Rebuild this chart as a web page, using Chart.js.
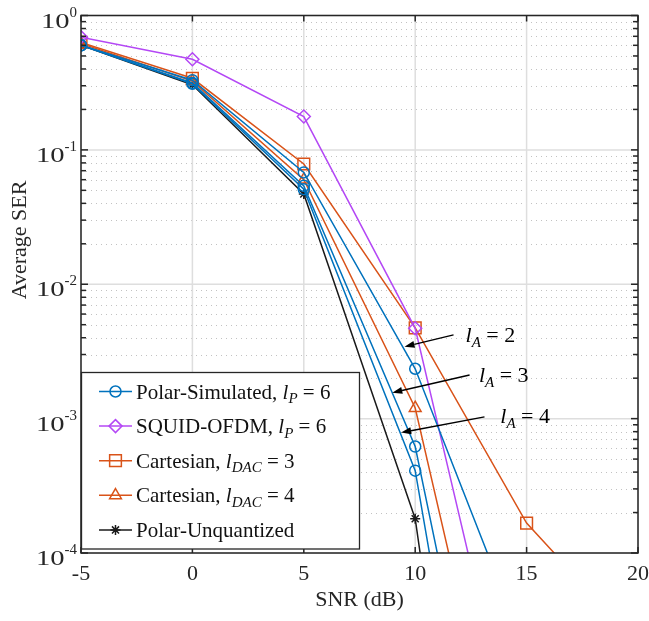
<!DOCTYPE html>
<html>
<head>
<meta charset="utf-8">
<script src="https://cdn.jsdelivr.net/npm/chart.js@4.4.0/dist/chart.umd.min.js"></script>
<style>
  html, body { margin: 0; padding: 0; background: #fff; }
</style>
</head>
<body>
<canvas id="chart" width="649" height="621"></canvas>
<script>
// SNR (dB) grid of the simulation
const snr = [-5, 0, 5, 10, 15, 20];

// average SER (values below 1e-4 only set the slope of the last segment)
const polarL2 = [0.60, 0.33, 0.068, 0.00235, 1.8e-5, null];
const polarL3 = [0.60, 0.315, 0.054, 0.00062, 6.3e-8, null];
const polarL4 = [0.60, 0.31, 0.051, 0.00041, 6.6e-9, null];
const squid = [0.69, 0.472, 0.177, 0.0047, 1.4e-6, null];
const cart3 = [0.63, 0.341, 0.0785, 0.00473, 1.67e-4, 2.1e-5];
const cart4 = [0.62, 0.325, 0.060, 0.0012, 3.1e-7, null];
const unquant = [0.60, 0.305, 0.047, 0.00018, 3e-10, null];

const xTicks = [-5, 0, 5, 10, 15, 20];
const yDecades = [0, -1, -2, -3, -4];

// arrows "l_A = n" : text start, arrow tail, arrow head (data units)
const arrowLabels = ['2', '3', '4'];
const arrowText = [[12.26, 0.00372], [12.86, 0.001875], [13.82, 0.000929]];
const arrowTail = [[11.72, 0.0042], [12.44, 0.00211], [13.11, 0.00103]];
const arrowHead = [[9.52, 0.00343], [8.97, 0.00156], [9.37, 0.000787]];

const BLUE = '#0072BD', ORANGE = '#D95319', PURPLE = '#B448F5', BLACK = '#1a1a1a';
const AX = '#262626';
const SERIF = '"Liberation Serif", "DejaVu Serif", serif';

function series(data, color, style, radius, legend) {
    return {
        data: data,
        borderColor: color,
        borderWidth: 1.5,
        pointStyle: style,
        pointRadius: radius,
        pointBorderColor: color,
        pointBackgroundColor: 'rgba(0,0,0,0)',
        pointBorderWidth: 1.5,
        tension: 0,
        fill: false,
        spanGaps: false,
        legendText: legend
    };
}

// legend text pieces: n = normal, i = italic, s = italic subscript
const legendPolar = [['Polar-Simulated, ', 'n'], ['l', 'i'], ['P', 's'], [' = 6', 'n']];
const legendSquid = [['SQUID-OFDM, ', 'n'], ['l', 'i'], ['P', 's'], [' = 6', 'n']];
const legendCart3 = [['Cartesian, ', 'n'], ['l', 'i'], ['DAC', 's'], [' = 3', 'n']];
const legendCart4 = [['Cartesian, ', 'n'], ['l', 'i'], ['DAC', 's'], [' = 4', 'n']];
const legendUnq = [['Polar-Unquantized', 'n']];

const datasets = [
    series(polarL2, BLUE, 'circle', 5.5, legendPolar),
    series(polarL3, BLUE, 'circle', 5.5, null),
    series(polarL4, BLUE, 'circle', 5.5, null),
    series(squid, PURPLE, 'rectRot', 6.5, legendSquid),
    series(cart3, ORANGE, 'rect', 8.3, legendCart3),
    series(cart4, ORANGE, 'triangle', 6.8, legendCart4),
    series(unquant, BLACK, 'star', 5, legendUnq)
];

function line(ctx, x0, y0, x1, y1) {
    ctx.beginPath();
    ctx.moveTo(x0, y0);
    ctx.lineTo(x1, y1);
    ctx.stroke();
}

// draws text made of normal / italic / subscript pieces, returns the end x
function richText(ctx, parts, x, y, size) {
    parts.forEach(p => {
        let font = size + 'px ' + SERIF;
        let dy = 0;
        if (p[1] === 'i') font = 'italic ' + size + 'px ' + SERIF;
        if (p[1] === 's') { font = 'italic ' + Math.round(size * 0.7) + 'px ' + SERIF; dy = size * 0.22; }
        ctx.font = font;
        ctx.fillText(p[0], x, y + dy);
        x += ctx.measureText(p[0]).width;
    });
    return x;
}

function drawGrid(chart) {
    const { ctx, chartArea: a, scales: { x, y } } = chart;
    ctx.save();
    // minor dotted lines of the log axis
    ctx.strokeStyle = '#c2c2c2';
    ctx.lineWidth = 1;
    ctx.setLineDash([1, 4]);
    yDecades.forEach(d => {
        if (d === 0) return;
        for (let m = 2; m <= 9; m++) {
            const py = Math.round(y.getPixelForValue(m * Math.pow(10, d))) + 0.5;
            line(ctx, a.left, py, a.right, py);
        }
    });
    // major solid lines
    ctx.setLineDash([]);
    ctx.strokeStyle = '#dedede';
    ctx.lineWidth = 1.5;
    yDecades.forEach(d => {
        const py = y.getPixelForValue(Math.pow(10, d));
        line(ctx, a.left, py, a.right, py);
    });
    xTicks.forEach(v => {
        const px = x.getPixelForValue(v);
        line(ctx, px, a.top, px, a.bottom);
    });
    ctx.restore();
}

function drawFrame(chart) {
    const { ctx, chartArea: a, scales: { x, y } } = chart;
    ctx.save();
    ctx.strokeStyle = AX;
    ctx.lineWidth = 1.5;
    // tick marks inside the box
    yDecades.forEach(d => {
        for (let m = 1; m <= 9; m++) {
            const v = m * Math.pow(10, d);
            if (v > 1 || (d === 0 && m > 1)) continue;
            const py = y.getPixelForValue(v);
            const len = m === 1 ? 7 : 5;
            line(ctx, a.left, py, a.left + len, py);
            line(ctx, a.right, py, a.right - len, py);
        }
    });
    xTicks.forEach(v => {
        const px = x.getPixelForValue(v);
        line(ctx, px, a.bottom, px, a.bottom - 6);
        line(ctx, px, a.top, px, a.top + 6);
    });
    ctx.strokeRect(a.left, a.top, a.right - a.left, a.bottom - a.top);
    ctx.restore();
}

// 10^n labels of the y axis
function drawYLabels(chart) {
    const { ctx, scales: { y } } = chart;
    ctx.save();
    ctx.fillStyle = AX;
    ctx.textBaseline = 'alphabetic';
    yDecades.forEach(d => {
        const py = y.getPixelForValue(Math.pow(10, d));
        const exp = String(d);
        ctx.font = '15px ' + SERIF;
        const ew = ctx.measureText(exp).width;
        const xr = 77;
        ctx.textAlign = 'left';
        ctx.fillText(exp, xr - ew, py + 1);
        ctx.font = '22px ' + SERIF;
        ctx.textAlign = 'right';
        ctx.save();
        ctx.translate(xr - ew, py + 12);
        ctx.scale(1.3, 1);
        ctx.fillText('10', 0, 0);
        ctx.restore();
    });
    ctx.restore();
}

function drawTitles(chart) {
    const { ctx, chartArea: a } = chart;
    ctx.save();
    ctx.fillStyle = AX;
    ctx.font = '22px ' + SERIF;
    ctx.textAlign = 'center';
    ctx.textBaseline = 'alphabetic';
    ctx.fillText('SNR (dB)', (a.left + a.right) / 2, 606);
    ctx.translate(26, 240);
    ctx.rotate(-Math.PI / 2);
    ctx.fillText('Average SER', 0, 0);
    ctx.restore();
}

function drawArrows(chart) {
    const { ctx, scales: { x, y } } = chart;
    ctx.save();
    ctx.strokeStyle = '#000';
    ctx.fillStyle = '#000';
    ctx.lineWidth = 1.4;
    arrowLabels.forEach((lab, i) => {
        const x0 = x.getPixelForValue(arrowTail[i][0]), y0 = y.getPixelForValue(arrowTail[i][1]);
        const x1 = x.getPixelForValue(arrowHead[i][0]), y1 = y.getPixelForValue(arrowHead[i][1]);
        const ang = Math.atan2(y1 - y0, x1 - x0);
        const hl = 10, hw = 3.5;
        const bx = x1 - hl * Math.cos(ang), by = y1 - hl * Math.sin(ang);
        line(ctx, x0, y0, bx, by);
        ctx.beginPath();
        ctx.moveTo(x1, y1);
        ctx.lineTo(bx + hw * Math.sin(ang), by - hw * Math.cos(ang));
        ctx.lineTo(bx - hw * Math.sin(ang), by + hw * Math.cos(ang));
        ctx.closePath();
        ctx.fill();
        const tx = x.getPixelForValue(arrowText[i][0]), ty = y.getPixelForValue(arrowText[i][1]);
        richText(ctx, [['l', 'i'], ['A', 's'], [' = ' + lab, 'n']], tx, ty, 22);
    });
    ctx.restore();
}

function drawLegend(chart) {
    const { ctx, chartArea: a } = chart;
    const items = chart.data.datasets.filter(ds => ds.legendText);
    const left = a.left + 0.5, top = 372.5, w = 278, h = 176.5;
    ctx.save();
    ctx.fillStyle = '#fff';
    ctx.fillRect(left, top, w, h);
    ctx.strokeStyle = AX;
    ctx.lineWidth = 1.3;
    ctx.strokeRect(left, top, w, h);
    items.forEach((ds, i) => {
        const cy = 391.5 + i * 34.6;
        ctx.strokeStyle = ds.borderColor;
        ctx.lineWidth = 1.5;
        line(ctx, 99, cy, 132, cy);
        ctx.fillStyle = 'rgba(0,0,0,0)';
        Chart.helpers.drawPoint(ctx, { pointStyle: ds.pointStyle, radius: ds.pointRadius, rotation: 0, borderWidth: 1.5 }, 115.5, cy);
        ctx.fillStyle = '#111';
        ctx.textBaseline = 'alphabetic';
        richText(ctx, ds.legendText, 136, cy + 7, 21);
    });
    ctx.restore();
}

const paperPlugin = {
    id: 'paper',
    beforeDatasetsDraw(chart) { drawGrid(chart); },
    afterDatasetsDraw(chart) {
        drawFrame(chart);
        drawYLabels(chart);
        drawTitles(chart);
        drawArrows(chart);
        drawLegend(chart);
    }
};

const ctx = document.getElementById('chart').getContext('2d');
const chart = new Chart(ctx, {
    type: 'line',
    data: { labels: snr, datasets: datasets },
    options: {
        responsive: false,
        animation: false,
        layout: { padding: { top: 15.5, right: 11, left: 0, bottom: 0 } },
        plugins: { legend: { display: false }, tooltip: { enabled: false } },
        scales: {
            x: {
                type: 'linear',
                min: -5,
                max: 20,
                afterFit: s => { s.height = 68; s.paddingLeft = 0; s.paddingRight = 0; },
                afterBuildTicks: s => { s.ticks = xTicks.map(v => ({ value: v })); },
                grid: { display: false, drawTicks: false },
                border: { display: false },
                ticks: {
                    padding: 8,
                    maxRotation: 0,
                    autoSkip: false,
                    color: AX,
                    font: { family: SERIF, size: 22 }
                }
            },
            y: {
                type: 'logarithmic',
                min: 1e-4,
                max: 1,
                afterFit: s => { s.width = 81; s.paddingTop = 0; s.paddingBottom = 0; },
                grid: { display: false, drawTicks: false },
                border: { display: false },
                ticks: { display: false }
            }
        }
    },
    plugins: [paperPlugin]
});
</script>
</body>
</html>
